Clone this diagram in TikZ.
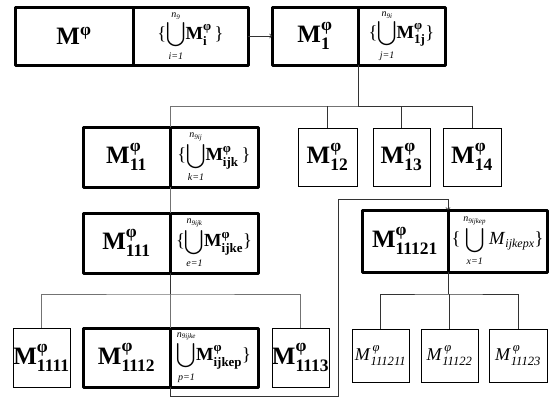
\documentclass[tikz,border=0pt]{standalone}
\usepackage{amsmath}
\usepackage{exscale}
\usepackage{fontspec}
\setmainfont{Liberation Serif}
\usetikzlibrary{positioning}

% bold M with phi on top and an index below
\newcommand{\Mb}[1]{\textbf{M}$^{\text{\bfseries φ}}_{\text{\bfseries #1}}$}
% italic M for the last level
\newcommand{\Mi}[1]{\textit{M}$^{\,\text{\itshape φ}}_{\text{\itshape #1}}$}
% union sign with limits
\newcommand{\Ucup}[2]{$\displaystyle\bigcup\limits_{\text{\fontsize{10}{10}\selectfont\itshape #2}}^{\text{\fontsize{10}{10}\selectfont\itshape n\textsubscript{#1}}}$}

\tikzset{
  tagl/.style={draw, line width=3pt, line join=round, outer sep=0pt, inner sep=0pt,
    minimum height=58pt, font=\fontsize{25}{25}\selectfont},
  tagr/.style={tagl, font=\fontsize{18.5}{18.5}\selectfont},
  leaf/.style={draw, line width=0.8pt, outer sep=0pt, inner sep=0pt,
    minimum width=57pt, minimum height=58pt, font=\fontsize{25}{25}\selectfont},
  leafit/.style={leaf, minimum height=53pt, font=\fontsize{18}{18}\selectfont},
  link/.style={draw=black!80, line width=0.8pt},
  trunk/.style={draw=black!55, line width=0.9pt},
}

\begin{document}
\begin{tikzpicture}[x=1pt,y=-1pt]
\useasboundingbox (0,0) rectangle (557,399);

% first row
\node[tagl, minimum width=118pt] (m) at (74,36) {\textbf{M}$^{\text{\bfseries φ}}$};
\node[tagr, minimum width=115pt, right=0pt of m] (mu) {\{\Ucup{9}{i=1}\Mb{i}\,\}};
\node[tagl, minimum width=86pt] (m1) at (315,36) {\Mb{1}};
\node[tagr, minimum width=87pt, right=0pt of m1] (m1u) {\{\Ucup{9i}{j=1}\Mb{1j}\}};

% second row
\node[tagl, minimum width=87pt, minimum height=60pt] (m11) at (126.5,157) {\Mb{11}};
\node[tagr, minimum width=88pt, minimum height=60pt, right=0pt of m11] (m11u) {\{\Ucup{9ij}{k=1}\Mb{ijk}\,\}};
\node[leaf, minimum width=59pt] (m12) at (327.5,157) {\Mb{12}};
\node[leaf] (m13) at (401.5,157) {\Mb{13}};
\node[leaf, minimum width=58pt] (m14) at (472,157) {\Mb{14}};

% third row
\node[tagl, minimum width=87pt, minimum height=60pt] (m111) at (126.5,243) {\Mb{111}};
\node[tagr, minimum width=88pt, minimum height=60pt, right=0pt of m111] (m111u) {\{\Ucup{9ijk}{e=1}\Mb{ijke}\}};
\node[tagl, minimum width=86pt, minimum height=62pt] (m11121) at (405,241) {\Mb{11121}};
\node[tagr, minimum width=99pt, minimum height=62pt, right=0pt of m11121] (m11121u) {\{\,\Ucup{9ijkep}{x=1}\,\textit{M}$_{\text{\fontsize{12}{12}\selectfont\itshape ijkepx}}$\}};

% fourth row
\node[leaf, minimum height=59pt] (m1111) at (41.5,357.5) {\Mb{1111}};
\node[tagl, minimum width=87pt, minimum height=59pt] (m1112) at (126.5,357.5) {\Mb{1112}};
\node[tagr, minimum width=88pt, minimum height=59pt, right=0pt of m1112] (m1112u) {\Ucup{9ijke}{p=1}\Mb{ijkep}\}};
\node[leaf, minimum height=59pt] (m1113) at (300.5,357.5) {\Mb{1113}};
\node[leafit] (m111211) at (380.5,355.5) {\Mi{111211}};
\node[leafit] (m11122) at (449.5,355.5) {\Mi{11122}};
\node[leafit, minimum width=58pt] (m11123) at (518,355.5) {\Mi{11123}};

% connectors
\coordinate (bus1) at (358,106);
\coordinate (bus2) at (170,294);
\coordinate (bus3) at (448,294);
\coordinate (turn) at (338,396);
\coordinate (turn2) at (338,199);

\draw[link,->] (mu) -- (m1);
\draw[link] (m1.south east) -- (bus1);
\draw[trunk] (m11.north east) |- (bus1);
\draw[link] (bus1) -| (m14.north);
\draw[link] (m12.north) -- (m12.north |- bus1);
\draw[link] (m13.north) -- (m13.north |- bus1);
\draw[trunk] (m11.south east) -- (m111.north east);
\draw[link] (m111.south east) -- (bus2);
\draw[trunk] (m1111.north) |- (bus2) -| (m1113.north);
\draw[trunk] (bus2) -- (m1112.north east);
\draw[link,->] (m1112.south east) |- (turn) -- (turn2) -| (m11121.north east);
\draw[link] (m11121.south east) -- (bus3);
\draw[link] (m111211.north) |- (bus3) -| (m11123.north);
\draw[link] (m11122.north) -- (m11122.north |- bus3);

\end{tikzpicture}
\end{document}
